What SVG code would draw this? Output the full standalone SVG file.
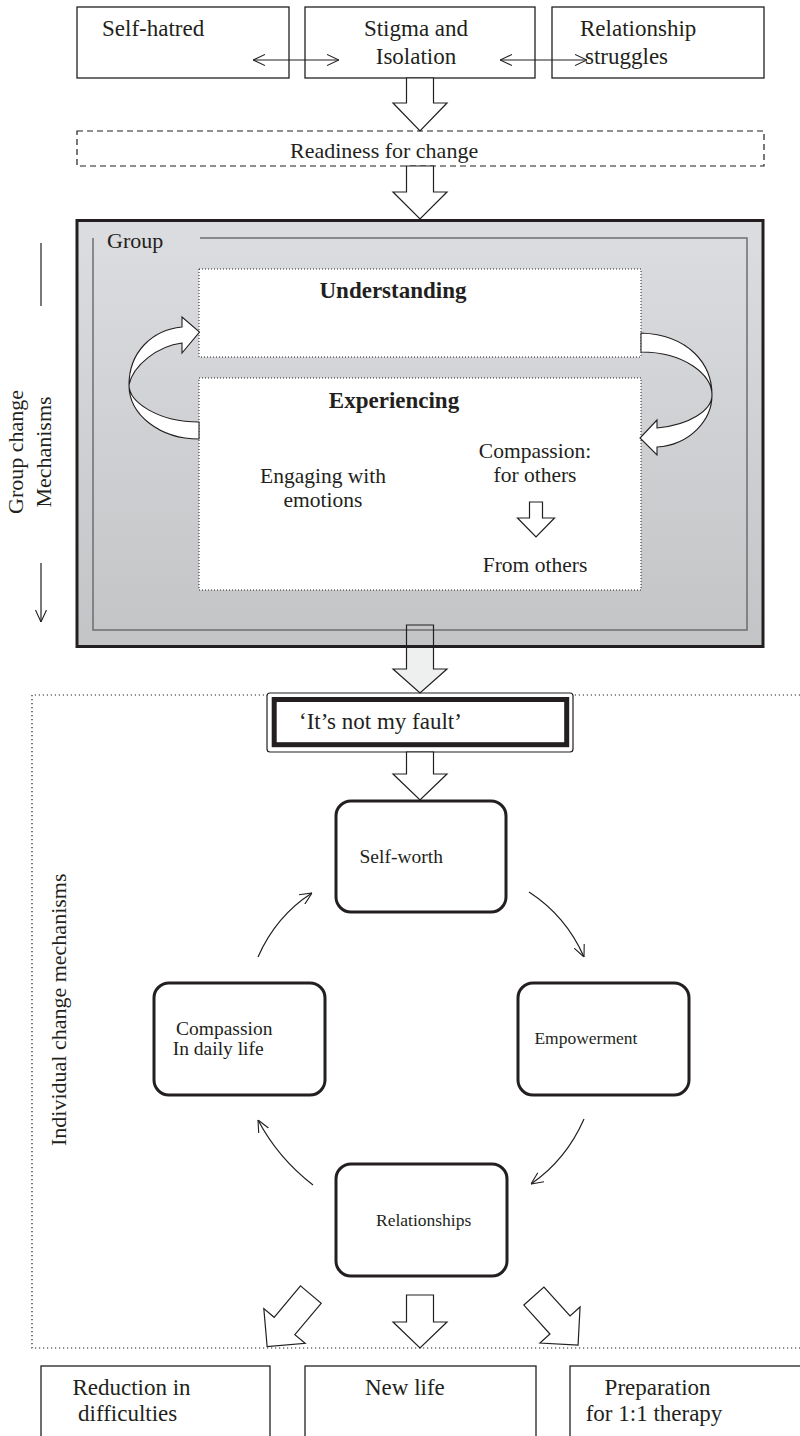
<svg xmlns="http://www.w3.org/2000/svg" width="800" height="1436" viewBox="0 0 800 1436">
<style>
text{font-family:"Liberation Serif","Times New Roman",serif;fill:#231f20}
.t23{font-size:23px}
.t22{font-size:22px}
.t21{font-size:21.5px}
.b{font-weight:bold}
.box{fill:#fff;stroke:#231f20;stroke-width:1.3}
.node{fill:#fff;stroke:#231f20;stroke-width:3}
.hollow{fill:#fff;stroke:#231f20;stroke-width:1.2}
.thin{fill:none;stroke:#231f20;stroke-width:1.2}
.dots{fill:none;stroke:#231f20;stroke-width:1.2;stroke-dasharray:1.2 2.8}
.dotbox{fill:#fff;stroke:#231f20;stroke-width:1;stroke-dasharray:1 2}
.c{text-anchor:middle}
</style>
<defs>
<marker id="v" viewBox="0 0 12 12" refX="12" refY="6" markerWidth="12" markerHeight="12" markerUnits="userSpaceOnUse" orient="auto-start-reverse">
<path d="M0,0.5 L12,6 L0,11.5" fill="none" stroke="#231f20" stroke-width="1.1"/>
</marker>
<linearGradient id="gg" x1="0" y1="0" x2="0" y2="1">
<stop offset="0" stop-color="#dcdde0"/>
<stop offset="1" stop-color="#c3c4c6"/>
</linearGradient>
</defs>

<g id="self-hatred">
<rect class="box" x="77" y="7" width="212" height="71"/>
<text class="t23" x="102" y="36">Self-hatred</text>
</g>
<g id="stigma">
<rect class="box" x="305" y="7" width="230" height="71"/>
<text class="t23 c" x="416" y="36">Stigma and</text>
<text class="t23 c" x="416" y="64">Isolation</text>
</g>
<g id="relationship-struggles">
<rect class="box" x="552" y="7" width="212" height="71"/>
<text class="t23" x="580" y="36">Relationship</text>
<text class="t23" x="585" y="64">struggles</text>
</g>

<g id="readiness">
<rect x="77" y="131" width="687" height="35" fill="#fff" stroke="#231f20" stroke-width="1.2" stroke-dasharray="6 4"/>
<text class="t22" x="290" y="158">Readiness for change</text>
</g>

<g id="group">
<rect x="77" y="220.5" width="686" height="426" fill="url(#gg)" stroke="#231f20" stroke-width="3"/>
<path d="M200,238 H747 V630 H93 V238" fill="none" stroke="#6d6e71" stroke-width="1.5"/>
<text class="t22" x="107" y="248">Group</text>
</g>

<g id="understanding">
<rect class="dotbox" x="199" y="269" width="442" height="88"/>
<text class="t23 b c" x="393" y="298">Understanding</text>
</g>

<g id="experiencing">
<rect class="dotbox" x="199" y="378" width="442" height="212"/>
<text class="t23 b c" x="394" y="408">Experiencing</text>
<text class="t21 c" x="323" y="483">Engaging with</text>
<text class="t21 c" x="323" y="507">emotions</text>
<text class="t21 c" x="535" y="458">Compassion:</text>
<text class="t21 c" x="535" y="482">for others</text>
<path class="hollow" d="M529.5,502 H542.5 V518 H554.5 L536,537 L517.5,518 H529.5 Z"/>
<text class="t21 c" x="535" y="572">From others</text>
</g>

<g id="group-label">
<line class="thin" x1="41" y1="243" x2="41" y2="306"/>
<text class="t22 c" transform="rotate(-90)" x="-452" y="23">Group change</text>
<text class="t22 c" transform="rotate(-90)" x="-452" y="51">Mechanisms</text>
<line class="thin" x1="41" y1="563" x2="41" y2="622" marker-end="url(#v)"/>
</g>

<g id="individual-region">
<path class="dots" d="M800,695 H32 V1348 H800"/>
<text class="t22" transform="rotate(-90)" x="-1146" y="66">Individual change mechanisms</text>
</g>

<g id="not-my-fault">
<rect x="267" y="693" width="306" height="59" rx="3" fill="#fff" stroke="#231f20" stroke-width="1.2"/>
<rect x="274.2" y="699.5" width="292.5" height="45.2" fill="none" stroke="#231f20" stroke-width="5"/>
<text class="t23" x="299" y="729">‘It’s not my fault’</text>
</g>

<g id="self-worth">
<rect class="node" x="336" y="801" width="170" height="111" rx="15"/>
<text x="359.5" y="863" font-size="19.5">Self-worth</text>
</g>
<g id="compassion-daily">
<rect class="node" x="154" y="983" width="171" height="112" rx="15"/>
<text x="176" y="1035" font-size="19.5">Compassion</text>
<text x="172.7" y="1055" font-size="19.5">In daily life</text>
</g>
<g id="empowerment">
<rect class="node" x="518" y="983" width="171" height="112" rx="15"/>
<text x="534.4" y="1044" font-size="17.5">Empowerment</text>
</g>
<g id="relationships">
<rect class="node" x="336" y="1164" width="171" height="112" rx="15"/>
<text x="376" y="1226" font-size="17.5">Relationships</text>
</g>

<g id="reduction">
<rect class="box" x="41" y="1366" width="229" height="80"/>
<text class="t23" x="72.4" y="1395">Reduction in</text>
<text class="t23" x="78" y="1421">difficulties</text>
</g>
<g id="new-life">
<rect class="box" x="305" y="1366" width="231" height="80"/>
<text class="t23" x="365" y="1395">New life</text>
</g>
<g id="preparation">
<rect class="box" x="570" y="1366" width="240" height="80"/>
<text class="t23" x="604.6" y="1395">Preparation</text>
<text class="t23" x="585.7" y="1421">for 1:1 therapy</text>
</g>

<g id="connectors">
<line class="thin" x1="253" y1="60" x2="339" y2="60" marker-start="url(#v)" marker-end="url(#v)"/>
<line class="thin" x1="500" y1="60" x2="587" y2="60" marker-start="url(#v)" marker-end="url(#v)"/>
<path class="hollow" d="M406.5,78 H433.5 V103 H447 L420,131 L393,103 H406.5 Z"/>
<path class="hollow" d="M406.5,166 H433.5 V192 H447 L420,219 L393,192 H406.5 Z"/>
<path d="M641,333 C690,335 712,365 712,395 C712,420 690,445 657,447 L657,455 L640,438 L657,420 L657,428 C690,425 712,410 712,395 C712,375 685,352 641,352 Z" fill="#fff" stroke="#231f20" stroke-width="1.1"/>
<path d="M199,439 C160,439 129,415 129,385 C129,352 152,330 182,327 L182,317 L199.5,332 L182,353 L182,343 C158,346 133,365 129,385 C129,402 158,422 199,422 Z" fill="#fff" stroke="#231f20" stroke-width="1.1"/>
<path d="M406.5,648 H433.5 V669 H447 L420,693 L393,669 H406.5 Z" fill="#eef0f0"/>
<path d="M406.5,625 H433.5 V669 H447 L420,693 L393,669 H406.5 Z" fill="none" stroke="#231f20" stroke-width="1.2"/>
<path class="hollow" d="M406.5,752 H433.5 V774 H447 L420,800 L393,774 H406.5 Z"/>
<path class="thin" d="M258,957 Q276,916 312,893" marker-end="url(#v)"/>
<path class="thin" d="M529,892 Q566,916 584,957" marker-end="url(#v)"/>
<path class="thin" d="M584,1119 Q566,1160 531,1184" marker-end="url(#v)"/>
<path class="thin" d="M313,1185 Q278,1158 258,1120" marker-end="url(#v)"/>
<path class="hollow" transform="translate(284.5,1326) rotate(40)" d="M-13.5,-41 H13.5 V0 H27 L0,27 L-27,0 H-13.5 Z"/>
<path class="hollow" d="M406.5,1295 H433.5 V1322 H447 L420,1348 L393,1322 H406.5 Z"/>
<path class="hollow" transform="translate(560,1325) rotate(-42)" d="M-13.5,-39 H13.5 V0 H27 L0,27 L-27,0 H-13.5 Z"/>
</g>
</svg>
